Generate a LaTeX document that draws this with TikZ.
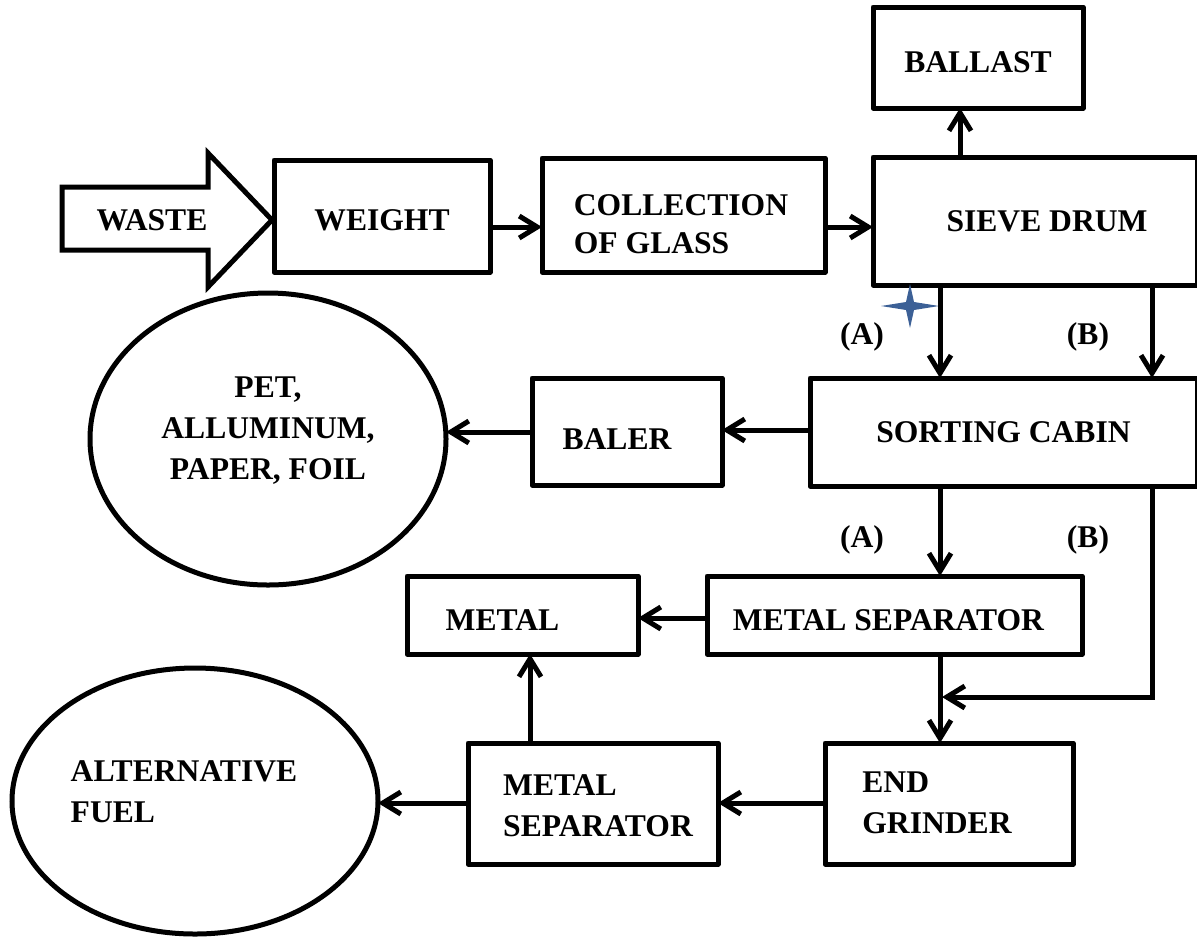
\documentclass[tikz,border=0pt]{standalone}
\usepackage{fontspec}
\setmainfont{Liberation Serif}
\usetikzlibrary{arrows.meta,shapes.geometric}
\definecolor{starblue}{RGB}{60,96,150}
\begin{document}
\begin{tikzpicture}[x=0.5pt,y=-0.5pt,
  font=\bfseries\fontsize{15.8}{20.5}\selectfont,
  box/.style={draw, line width=2.5pt, rectangle, inner sep=0pt, outer sep=0pt, line join=round},
  oval/.style={draw, line width=2.5pt, ellipse, inner sep=0pt, outer sep=0pt},
  arr/.style={line width=2.5pt, -{Straight Barb[length=9pt,width=11pt]}},
  lbl/.style={inner sep=0pt}
]
\useasboundingbox (0,0) rectangle (1197,938);

% WASTE big arrow
\draw[line width=2.5pt, line join=miter] (62,187) -- (208,187) -- (208,153) -- (272,220) -- (208,287) -- (208,250) -- (62,250) -- cycle;
\node[lbl] (waste) at (152,220) {WASTE};

% boxes
\node[box, minimum width=108pt, minimum height=56pt,
  label={[lbl,yshift=-2pt]center:WEIGHT}] (weight) at (382,216) {};
\node[box, minimum width=141.5pt, minimum height=57pt,
  label={[lbl,align=left,xshift=-1.25pt,yshift=-4.5pt,font=\bfseries\fontsize{15.8}{19}\selectfont]center:COLLECTION\\OF GLASS}] (collect) at (683.5,215) {};
\node[box, minimum width=162pt, minimum height=64pt,
  label={[lbl,xshift=6pt]center:SIEVE DRUM}] (sieve) at (1035,221) {};
\node[box, minimum width=105pt, minimum height=50.5pt,
  label={[lbl,yshift=-2.25pt]center:BALLAST}] (ballast) at (978,57.5) {};
\node[box, minimum width=193.5pt, minimum height=54pt,
  label={[lbl]center:SORTING CABIN}] (sorting) at (1003.5,432) {};
\node[box, minimum width=95pt, minimum height=53.5pt,
  label={[lbl,xshift=-5pt,yshift=-4pt]center:BALER}] (baler) at (627,431.5) {};
\node[box, minimum width=115.5pt, minimum height=39pt,
  label={[lbl,xshift=-10pt,yshift=-2.5pt]center:METAL}] (metal) at (522.5,615) {};
\node[box, minimum width=187.5pt, minimum height=39pt,
  label={[lbl,xshift=-3pt,yshift=-2.5pt]center:METAL SEPARATOR}] (msep1) at (894.5,615) {};
\node[box, minimum width=124pt, minimum height=60.5pt,
  label={[lbl,align=left,xshift=-6pt,yshift=0.5pt]center:END\\GRINDER}] (grinder) at (949,803.5) {};
\node[box, minimum width=125pt, minimum height=60.5pt,
  label={[lbl,align=left,xshift=2.5pt,yshift=-1pt]center:METAL\\SEPARATOR}] (msep2) at (593,803.5) {};

% ellipses
\node[oval, minimum width=178pt, minimum height=146pt,
  label={[lbl,align=center,yshift=4pt]center:PET,\\ALLUMINUM,\\PAPER, FOIL}] (pet) at (268,439) {};
\node[oval, minimum width=183pt, minimum height=133pt,
  label={[lbl,align=left,xshift=-5.5pt,yshift=4.75pt]center:ALTERNATIVE\\FUEL}] (fuel) at (195,801) {};

% branch labels
\node[lbl] (la1) at (862,337) {(A)};
\node[lbl] (lb1) at (1088,337) {(B)};
\node[lbl] (la2) at (862,540) {(A)};
\node[lbl] (lb2) at (1088,540) {(B)};

% star
\fill[starblue] (881,306) -- (906,302) -- (910,284) -- (914,302) -- (939,306) -- (914,310) -- (910,328) -- (906,310) -- cycle;

% connectors
\draw[arr] (weight.east |- 0,227) -- (collect.west |- 0,227);
\draw[arr] (collect.east |- 0,227) -- (sieve.west |- 0,227);
\draw[arr] (sieve.north -| 960,0) -- (ballast.south -| 960,0);
\draw[arr] (sieve.south -| 940,0) -- (sorting.north -| 940,0);
\draw[arr] (sieve.south -| 1152,0) -- (sorting.north -| 1152,0);
\draw[arr] (sorting.west |- 0,430) -- (baler.east |- 0,430);
\draw[arr] (baler.west |- 0,432) -- (pet.east |- 0,432);
\draw[arr] (sorting.south -| 940,0) -- (msep1.north -| 940,0);
\draw[arr] (msep1.west |- 0,618) -- (metal.east |- 0,618);
\draw[arr] (msep1.south -| 940,0) -- (grinder.north -| 940,0);
\coordinate (j) at (942,697);
\draw[arr] (sorting.south -| 1152,0) |- (j);
\draw[arr] (grinder.west |- 0,803) -- (msep2.east |- 0,803);
\draw[arr] (msep2.north -| 530,0) -- (metal.south -| 530,0);
\draw[arr] (msep2.west |- 0,803) -- (fuel.east |- 0,803);
\end{tikzpicture}
\end{document}
